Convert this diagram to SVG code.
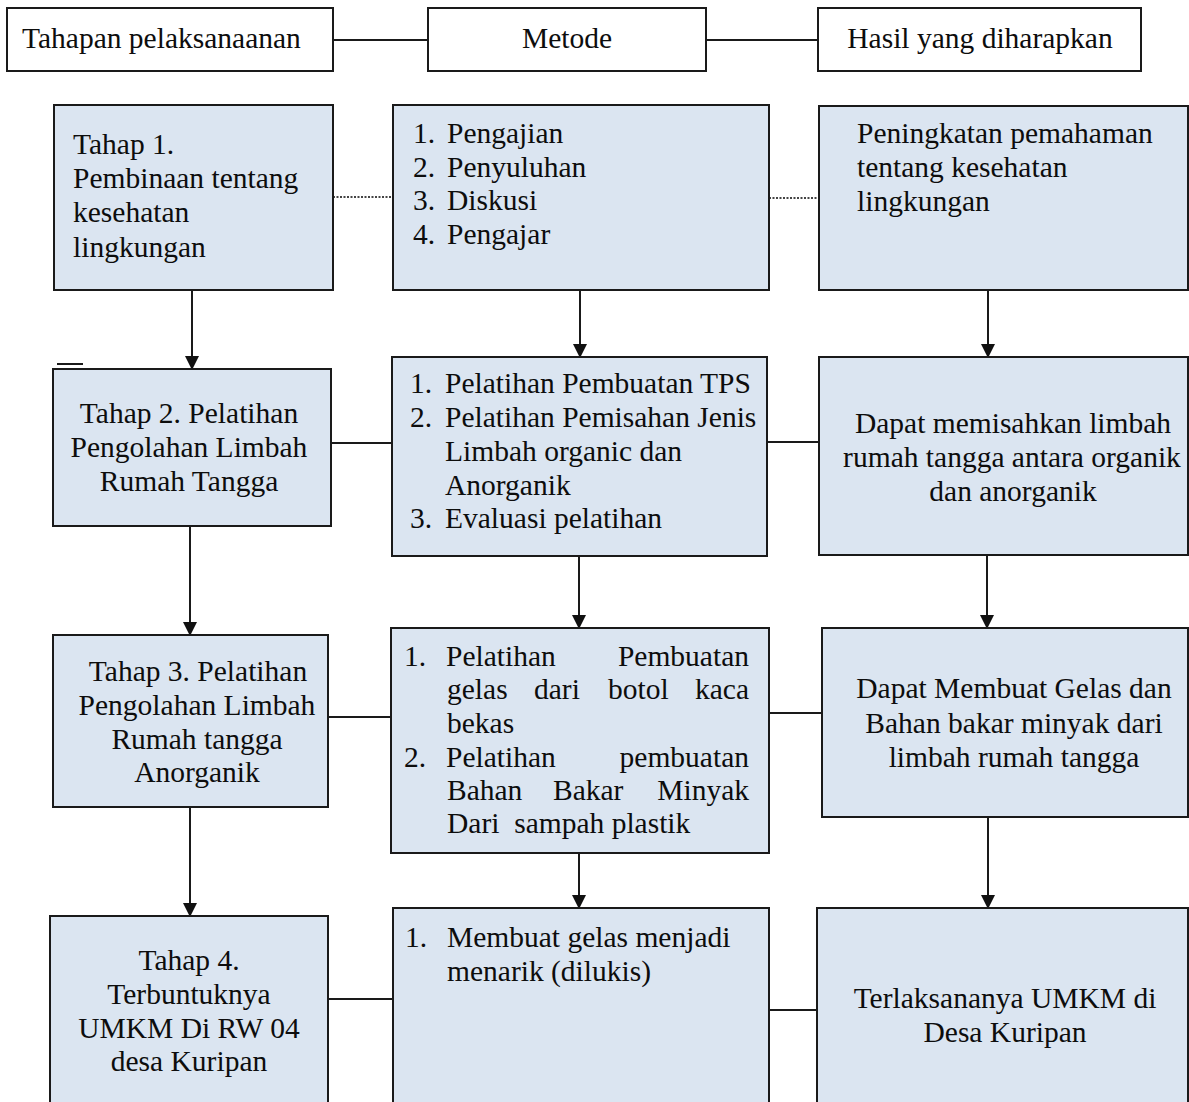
<svg xmlns="http://www.w3.org/2000/svg" width="1189" height="1102" viewBox="0 0 1189 1102">
<defs>
<style>
.hdr{fill:#ffffff;stroke:#1a1a1a;stroke-width:2}
.box{fill:#dbe5f1;stroke:#1a1a1a;stroke-width:2}
.c{text-anchor:middle}
.e{text-anchor:end}
.ln{stroke:#1a1a1a;stroke-width:2;fill:none}
.dot{stroke:#444;stroke-width:1.8;stroke-dasharray:2 1.5;fill:none}
.arr{stroke:#1a1a1a;stroke-width:2;fill:none;marker-end:url(#ah)}
</style>
<marker id="ah" markerUnits="userSpaceOnUse" markerWidth="14" markerHeight="14" refX="13" refY="7" orient="auto" viewBox="0 0 14 14">
<path d="M0,0 L14,7 L0,14 Z" fill="#111"/>
</marker>
</defs>
<rect width="1189" height="1102" fill="#ffffff"/>

<g id="connectors">
<line class="ln" x1="333" y1="40" x2="428" y2="40"/>
<line class="ln" x1="706" y1="40" x2="818" y2="40"/>
<line class="dot" x1="333" y1="197" x2="393" y2="197"/>
<line class="dot" x1="769" y1="198" x2="819" y2="198"/>
<line class="ln" x1="331" y1="443" x2="392" y2="443"/>
<line class="ln" x1="767" y1="442" x2="819" y2="442"/>
<line class="ln" x1="328" y1="717" x2="391" y2="717"/>
<line class="ln" x1="768" y1="713" x2="822" y2="713"/>
<line class="ln" x1="328" y1="999" x2="393" y2="999"/>
<line class="ln" x1="767" y1="1010" x2="817" y2="1010"/>
<line class="ln" x1="57" y1="364" x2="83" y2="364"/>
<line class="arr" x1="192" y1="290" x2="192" y2="369"/>
<line class="arr" x1="580" y1="290" x2="580" y2="357"/>
<line class="arr" x1="988" y1="290" x2="988" y2="357"/>
<line class="arr" x1="190" y1="526" x2="190" y2="635"/>
<line class="arr" x1="579" y1="556" x2="579" y2="628"/>
<line class="arr" x1="987" y1="555" x2="987" y2="628"/>
<line class="arr" x1="190" y1="807" x2="190" y2="916"/>
<line class="arr" x1="579" y1="853" x2="579" y2="908"/>
<line class="arr" x1="988" y1="817" x2="988" y2="908"/>
</g>

<g font-family="Liberation Serif, Times New Roman, serif" font-size="29.5" fill="#0d0d0d">
<g id="h1"><rect class="hdr" x="7" y="8" width="326" height="63"/><text x="22" y="48">Tahapan pelaksanaanan</text></g>
<g id="h2"><rect class="hdr" x="428" y="8" width="278" height="63"/><text class="c" x="567" y="48">Metode</text></g>
<g id="h3"><rect class="hdr" x="818" y="8" width="323" height="63"/><text class="c" x="980" y="48">Hasil yang diharapkan</text></g>

<g id="a1"><rect class="box" x="54" y="105" width="279" height="185"/>
<text x="73" y="154">Tahap 1.</text>
<text x="73" y="188">Pembinaan tentang</text>
<text x="73" y="222">kesehatan</text>
<text x="73" y="257">lingkungan</text></g>

<g id="b1"><rect class="box" x="393" y="105" width="376" height="185"/>
<text x="413" y="143">1.</text><text x="447" y="143">Pengajian</text>
<text x="413" y="177">2.</text><text x="447" y="177">Penyuluhan</text>
<text x="413" y="210">3.</text><text x="447" y="210">Diskusi</text>
<text x="413" y="244">4.</text><text x="447" y="244">Pengajar</text></g>

<g id="c1"><rect class="box" x="819" y="106" width="369" height="184"/>
<text x="857" y="143">Peningkatan pemahaman</text>
<text x="857" y="177">tentang kesehatan</text>
<text x="857" y="211">lingkungan</text></g>

<g id="a2"><rect class="box" x="53" y="369" width="278" height="157"/>
<text class="c" x="189" y="423">Tahap 2. Pelatihan</text>
<text class="c" x="189" y="457">Pengolahan Limbah</text>
<text class="c" x="189" y="491">Rumah Tangga</text></g>

<g id="b2"><rect class="box" x="392" y="357" width="375" height="199"/>
<text x="410" y="393">1.</text><text x="445" y="393">Pelatihan Pembuatan TPS</text>
<text x="410" y="427">2.</text><text x="445" y="427">Pelatihan Pemisahan Jenis</text>
<text x="445" y="461">Limbah organic dan</text>
<text x="445" y="495">Anorganik</text>
<text x="410" y="528">3.</text><text x="445" y="528">Evaluasi pelatihan</text></g>

<g id="c2"><rect class="box" x="819" y="357" width="369" height="198"/>
<text class="c" x="1013" y="433">Dapat memisahkan limbah</text>
<text class="c" x="1012" y="467">rumah tangga antara organik</text>
<text class="c" x="1013" y="501">dan anorganik</text></g>

<g id="a3"><rect class="box" x="53" y="635" width="275" height="172"/>
<text class="c" x="198" y="681">Tahap 3. Pelatihan</text>
<text class="c" x="197" y="715">Pengolahan Limbah</text>
<text class="c" x="197" y="749">Rumah tangga</text>
<text class="c" x="197" y="782">Anorganik</text></g>

<g id="b3"><rect class="box" x="391" y="628" width="378" height="225"/>
<text x="404" y="666">1.</text><text x="446" y="666">Pelatihan</text><text class="e" x="749" y="666">Pembuatan</text>
<text x="447" y="699">gelas</text><text x="534" y="699">dari</text><text x="608" y="699">botol</text><text class="e" x="749" y="699">kaca</text>
<text x="447" y="733">bekas</text>
<text x="404" y="767">2.</text><text x="446" y="767">Pelatihan</text><text class="e" x="749" y="767">pembuatan</text>
<text x="447" y="800">Bahan</text><text x="553" y="800">Bakar</text><text class="e" x="749" y="800">Minyak</text>
<text x="447" y="833" xml:space="preserve">Dari  sampah plastik</text></g>

<g id="c3"><rect class="box" x="822" y="628" width="366" height="189"/>
<text class="c" x="1014" y="698">Dapat Membuat Gelas dan</text>
<text class="c" x="1014" y="733">Bahan bakar minyak dari</text>
<text class="c" x="1014" y="767">limbah rumah tangga</text></g>

<g id="a4"><rect class="box" x="50" y="916" width="278" height="200"/>
<text class="c" x="189" y="970">Tahap 4.</text>
<text class="c" x="189" y="1004">Terbuntuknya</text>
<text class="c" x="189" y="1038">UMKM Di RW 04</text>
<text class="c" x="189" y="1071">desa Kuripan</text></g>

<g id="b4"><rect class="box" x="393" y="908" width="376" height="210"/>
<text x="405" y="947">1.</text><text x="447" y="947">Membuat gelas menjadi</text>
<text x="447" y="981">menarik (dilukis)</text></g>

<g id="c4"><rect class="box" x="817" y="908" width="371" height="210"/>
<text class="c" x="1005" y="1008">Terlaksananya UMKM di</text>
<text class="c" x="1005" y="1042">Desa Kuripan</text></g>
</g>
</svg>
